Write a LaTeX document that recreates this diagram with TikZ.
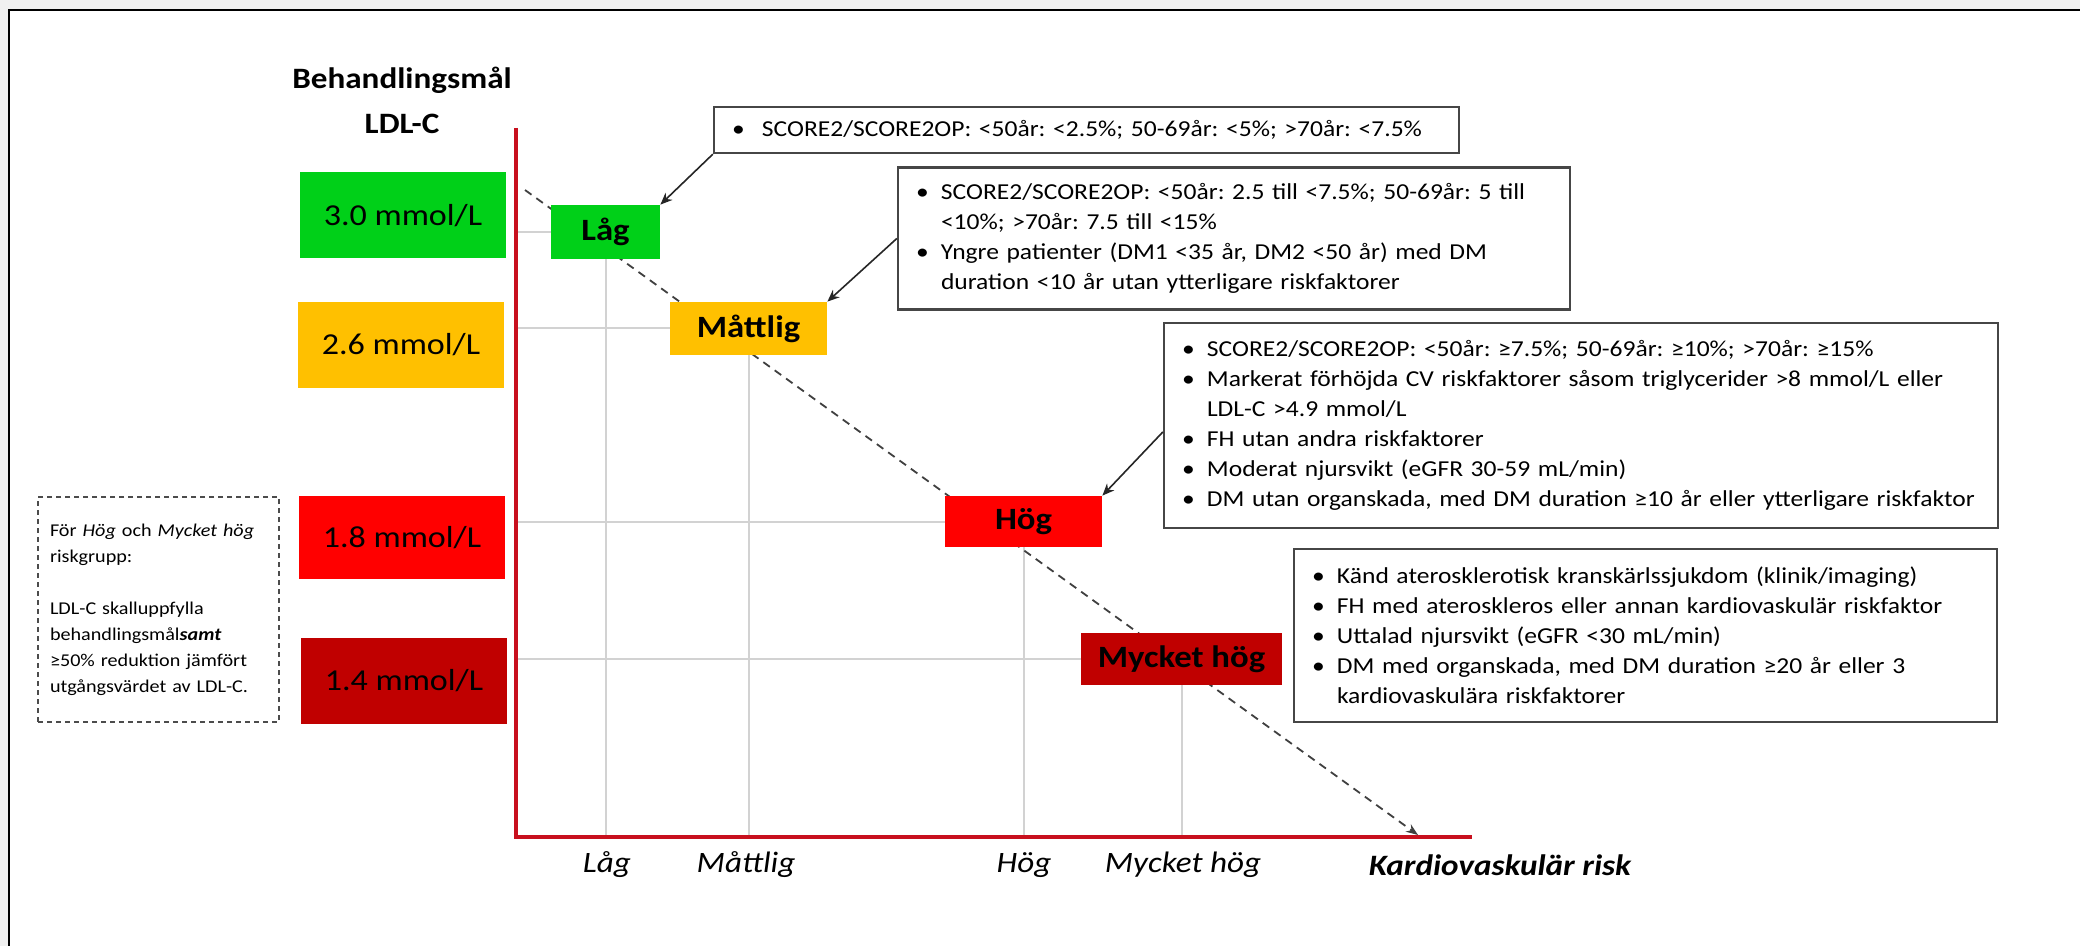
\documentclass[tikz,border=0pt]{standalone}
\usepackage{fontspec}
\setmainfont{Carlito}[FakeStretch=1.12]
\usetikzlibrary{arrows.meta,calc}
\definecolor{cgreen}{RGB}{0,208,24}
\definecolor{corange}{RGB}{255,192,0}
\definecolor{cred}{RGB}{255,0,0}
\definecolor{cdred}{RGB}{192,0,0}
\definecolor{caxis}{RGB}{200,16,30}
\definecolor{cguide}{RGB}{210,210,210}
\definecolor{cbg}{RGB}{240,240,240}
\definecolor{cborder}{RGB}{70,70,70}
\newcommand\ibul{\makebox[12.5pt][l]{\textbullet}}
\newcommand\iind{\hspace*{12.5pt}}
\frenchspacing
\begin{document}
\begin{tikzpicture}[x=0.5pt,y=-0.5pt,
  valbox/.style={rectangle, inner sep=0pt, minimum width=103pt, minimum height=43pt, font=\fontsize{15.2}{18}\selectfont},
  riskbox/.style={rectangle, inner sep=0pt, font=\bfseries\fontsize{15.5}{18}\selectfont},
  infobox/.style={rectangle, draw=cborder, line width=1.2pt, fill=white, inner xsep=9pt, inner ysep=0pt, align=left, font=\fontsize{11.4}{15}\selectfont},
  notebox/.style={rectangle, draw=black!70, line width=0.8pt, dash pattern=on 2.5pt off 2pt, inner xsep=6pt, inner ysep=0pt, align=left, font=\fontsize{9}{13}\selectfont},
  guide/.style={draw=cguide, line width=1pt},
  axisline/.style={draw=caxis, line width=1.6pt},
  callout/.style={draw=black!85, line width=0.8pt, -{Stealth[length=6pt,width=5pt]}},
  trend/.style={draw=black!75, line width=0.9pt, dash pattern=on 4pt off 3pt, -{Stealth[length=6pt,width=4.5pt]}},
  axlabel/.style={font=\itshape\fontsize{14.8}{18}\selectfont},
  titletext/.style={align=center, font=\bfseries\fontsize{14.8}{22.5}\selectfont}
]
\useasboundingbox (0,0) rectangle (2080,946);
% frame
\fill[cbg] (0,0) rectangle (2080,946);
\fill[white] (9,10) rectangle (2080,946);
\draw[black, line width=1pt] (9,946) -- (9,10) -- (2080,10);

% coordinates of axes
\coordinate (O) at (516,837);
\coordinate (ytop) at (516,128);
\coordinate (xend) at (1472,837);
\coordinate (ts) at (525,190);
\coordinate (te) at (1418,835);

% risk boxes (positions)
\node[riskbox, minimum width=54.5pt, minimum height=27pt] (lag) at (605.5,232) {};
\node[riskbox, minimum width=78.5pt, minimum height=26.5pt] (mat) at (748.5,328.5) {};
\node[riskbox, minimum width=78.5pt, minimum height=25.5pt] (hog) at (1023.5,521.5) {};
\node[riskbox, minimum width=100.5pt, minimum height=26pt] (mh) at (1181.5,659) {};

% guides
\foreach \r in {lag,mat,hog,mh}{
  \draw[guide] (\r.west -| O) -- (\r.west);
  \draw[guide] (\r.south) -- (\r.south |- O);
}

% axes
\draw[axisline] (ytop) -- (O) -- (xend);

% trend
\draw[trend] (ts) -- (te);

% risk boxes (filled, with labels)
\node[riskbox, fill=cgreen, minimum width=54.5pt, minimum height=27pt] at (lag) {Låg};
\node[riskbox, fill=corange, minimum width=78.5pt, minimum height=26.5pt] at (mat) {Måttlig};
\node[riskbox, fill=cred, minimum width=78.5pt, minimum height=25.5pt] at (hog) {Hög};
\node[riskbox, fill=cdred, minimum width=100.5pt, minimum height=26pt] at (mh) {Mycket hög};

% value boxes
\node[valbox, fill=cgreen] (v30) at (403,215.5) {3.0 mmol/L};
\node[valbox, fill=corange] (v26) at (401,345) {2.6 mmol/L};
\node[valbox, fill=cred, minimum height=41.5pt] (v18) at (402,537.5) {1.8 mmol/L};
\node[valbox, fill=cdred] (v14) at (404,681) {1.4 mmol/L};

% title
\node[titletext] (title) at (402,100) {Behandlingsmål\\LDL-C};

% note box
\node[notebox, text width=108.5pt, minimum height=112.5pt] (note) at (158.5,609.5)
 {\mbox{För \textit{Hög} och \textit{Mycket hög}}\\
  riskgrupp:\\[13pt]
  LDL-C skalluppfylla\\
  behandlingsmål\textbf{\textit{samt}}\\
  ≥50\% reduktion jämfört\\
  utgångsvärdet av LDL-C.};

% info boxes
\node[infobox, text width=354.5pt, minimum height=23pt] (b1) at (1086.5,130)
 {\makebox[15pt][l]{\textbullet}SCORE2/SCORE2OP: <50år: <2.5\%; 50-69år: <5\%; >70år: <7.5\%};
\node[infobox, text width=318pt, minimum height=71pt] (b2) at (1234,238.5)
 {\ibul SCORE2/SCORE2OP: <50år: 2.5 till <7.5\%; 50-69år: 5 till\\
  \iind <10\%; >70år: 7.5 till <15\%\\
  \ibul Yngre patienter (DM1 <35 år, DM2 <50 år) med DM\\
  \iind duration <10 år utan ytterligare riskfaktorer};
\node[infobox, text width=399pt, minimum height=102.5pt] (b3) at (1581,425.5)
 {\ibul SCORE2/SCORE2OP: <50år: ≥7.5\%; 50-69år: ≥10\%; >70år: ≥15\%\\
  \ibul Markerat förhöjda CV riskfaktorer såsom triglycerider >8 mmol/L eller\\
  \iind LDL-C >4.9 mmol/L\\
  \ibul FH utan andra riskfaktorer\\
  \ibul Moderat njursvikt (eGFR 30-59 mL/min)\\
  \ibul DM utan organskada, med DM duration ≥10 år eller ytterligare riskfaktor};
\node[infobox, text width=333.5pt, minimum height=86.5pt] (b4) at (1645.5,635.5)
 {\ibul Känd aterosklerotisk kranskärlssjukdom (klinik/imaging)\\
  \ibul FH med ateroskleros eller annan kardiovaskulär riskfaktor\\
  \ibul Uttalad njursvikt (eGFR <30 mL/min)\\
  \ibul DM med organskada, med DM duration ≥20 år eller 3\\
  \iind kardiovaskulära riskfaktorer};

% callouts
\draw[callout] (b1.south west) -- (lag.north east);
\draw[callout] (b2.west) -- (mat.north east);
\draw[callout] ([yshift=-3.25pt]b3.west) -- (hog.north east);

% axis labels
\node[axlabel] (xl1) at (607,865) {Låg};
\node[axlabel] (xl2) at (746,865) {Måttlig};
\node[axlabel] (xl3) at (1024,865) {Hög};
\node[axlabel] (xl4) at (1183,865) {Mycket hög};
\node[axlabel, font=\bfseries\itshape\fontsize{14.8}{18}\selectfont] (xl5) at (1500,865) {Kardiovaskulär risk};
\end{tikzpicture}
\end{document}
